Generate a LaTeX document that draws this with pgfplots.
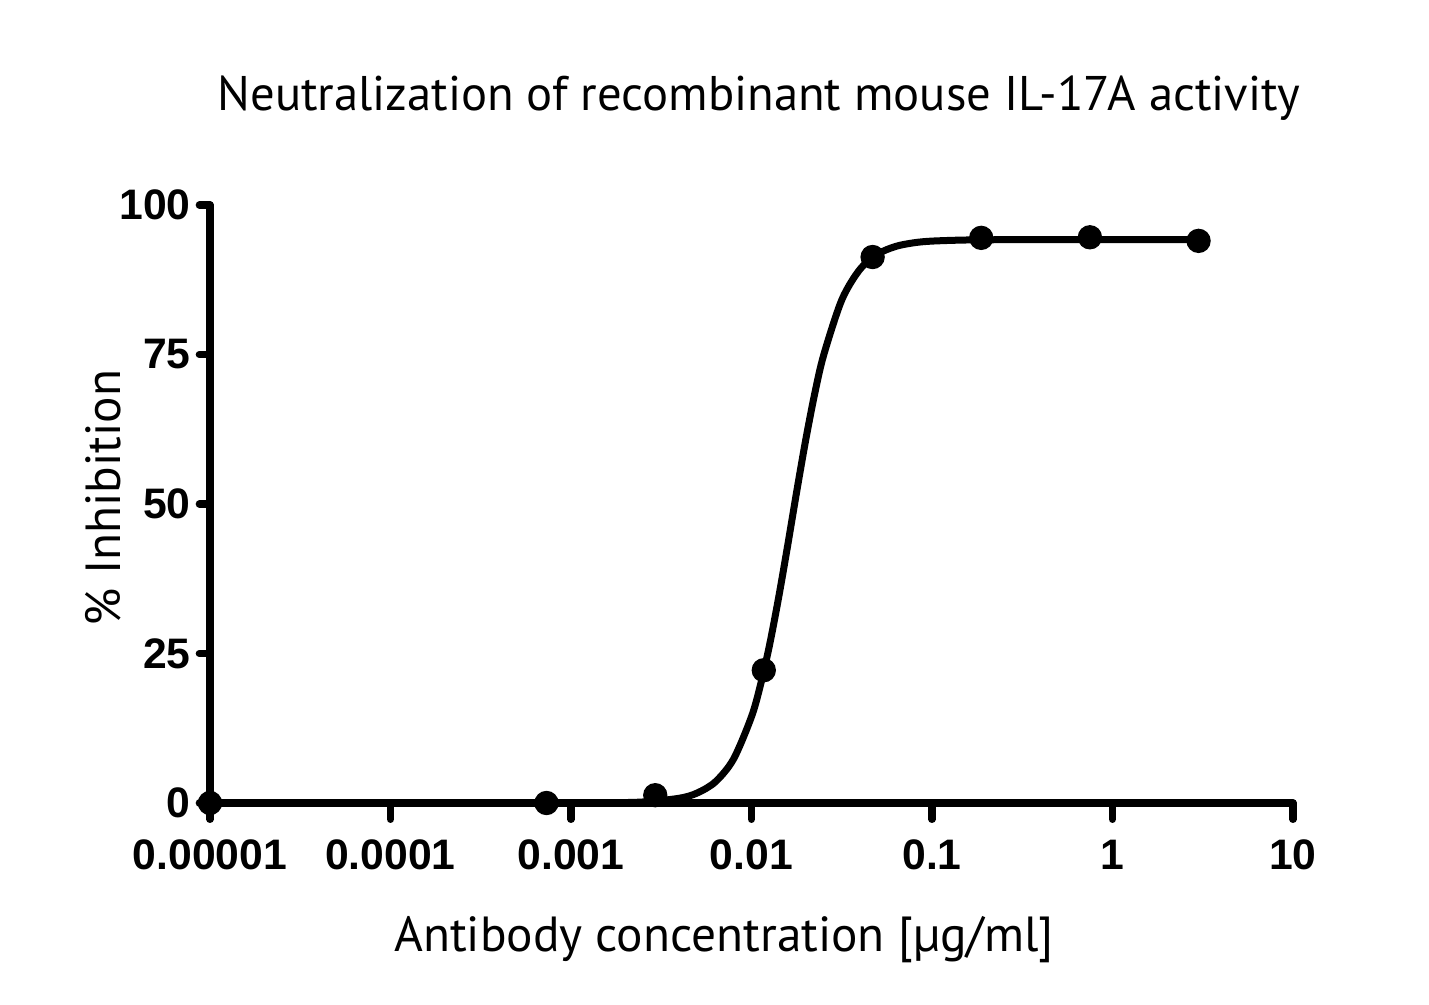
\documentclass[border=0pt]{standalone}
\usepackage{pgfplots}
\pgfplotsset{compat=1.18}
\usepackage{fontspec}
\setmainfont{PT Sans}
\newfontfamily\tickfont{Liberation Sans Bold}
\begin{document}
\begin{tikzpicture}[x=1pt,y=1pt]
\useasboundingbox (-63,-60.6) rectangle (365.7,240.9);
\begin{axis}[
  at={(0,0)}, anchor=south west,
  scale only axis, width=324.9pt, height=179.4pt,
  xmode=log, log basis x=10,
  xmin=1e-5, xmax=10, ymin=0, ymax=100,
  axis lines=left,
  axis line style={-, line width=2.2pt, line cap=round},
  xtick={1e-5,1e-4,0.001,0.01,0.1,1,10},
  xticklabels={0.00001,0.0001,0.001,0.01,0.1,1,10},
  ytick={0,25,50,75,100},
  yticklabels={0,25,50,75,100},
  xminorticks=false, yminorticks=false,
  tick align=outside,
  tick style={black, line width=2.2pt, line cap=round},
  xtick style={/pgfplots/major tick length=4.9pt},
  ytick style={/pgfplots/major tick length=3.2pt},
  /pgf/number format/assume math mode=true,
  tick label style={font=\tickfont\fontsize{12.8}{15}\selectfont},
  xticklabel style={anchor=north, text height=9.3pt, text depth=0pt, yshift=-3pt},
  yticklabel style={xshift=2pt},
  clip=false,
]
\addplot[black, line width=2.1pt, smooth, no marks] coordinates {
(0.00073,0) (0.001585,0.04) (0.002512,0.17) (0.003981,0.79) (0.005012,1.68)
(0.00631,3.54) (0.007943,7.30) (0.01,14.42) (0.01122,19.75) (0.01259,26.4)
(0.01413,34.3) (0.01585,42.96) (0.01778,51.96) (0.01995,60.6) (0.02239,68.4)
(0.02512,74.9) (0.03162,84.1) (0.03981,89.2) (0.05012,91.8) (0.0631,93.08)
(0.07943,93.68) (0.1,93.96) (0.1585,94.15) (0.3162,94.2) (1,94.2) (3,94.2)
};
\addplot[black, only marks, mark=*, mark size=3.45pt] coordinates {
(1e-5,0) (0.000732,0) (0.00293,1.3) (0.0117,22.2) (0.0469,91.3)
(0.1875,94.5) (0.75,94.6) (3,94.0)
};
\end{axis}
\node[font=\fontsize{14.6}{17}\selectfont] at (164.7,211.5) {Neutralization of recombinant mouse IL-17A activity};
\node[font=\fontsize{14.8}{17}\selectfont] at (154.2,-41.1) {Antibody concentration [µg/ml]};
\node[font=\fontsize{14.8}{17}\selectfont, rotate=90] at (-32.1,91.5) {\% Inhibition};
\end{tikzpicture}
\end{document}
